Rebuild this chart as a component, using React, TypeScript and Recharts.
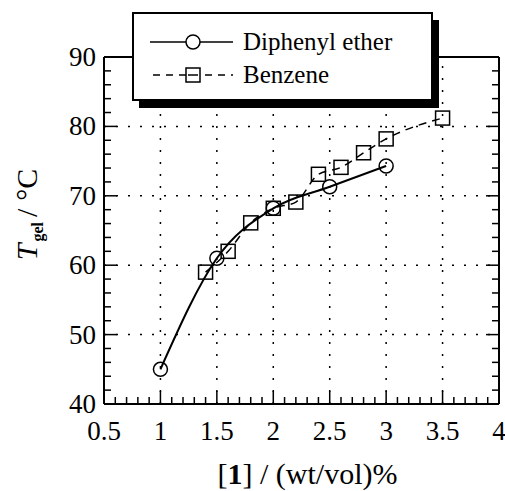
import {
  LineChart,
  Line,
  XAxis,
  YAxis,
  ReferenceLine,
  Legend,
} from "recharts";

// Diphenyl ether
const diphenylConc = [1, 1.5, 2, 2.5, 3];
const diphenylTgel = [45, 61, 68.2, 71.3, 74.3];

// Benzene
const benzeneConc = [1.4, 1.6, 1.8, 2, 2.2, 2.4, 2.6, 2.8, 3, 3.5];
const benzeneTgel = [59, 62, 66.1, 68.2, 69.1, 73.1, 74.1, 76.2, 78.2, 81.2];

const xMajorTicks = [0.5, 1, 1.5, 2, 2.5, 3, 3.5, 4];
const yMajorTicks = [40, 50, 60, 70, 80, 90];
const xGrid = [1, 1.5, 2, 2.5, 3, 3.5];
const yGrid = [50, 60, 70, 80];

// minor ticks every 0.1 on x, every 2 on y
const xAllTicks = Array.from({ length: 36 }, (_, i) => Math.round((0.5 + i * 0.1) * 10) / 10);
const yAllTicks = Array.from({ length: 26 }, (_, i) => 40 + i * 2);

const FONT = "'Liberation Serif', 'Times New Roman', 'DejaVu Serif', serif";
const MAJOR = 13;
const MINOR = 7;
const tickStroke = { stroke: "#000", strokeWidth: 1.5, fill: "none" };
const txt = { fontFamily: FONT, fill: "#000" };

const diphenylData = diphenylConc.map((x, i) => ({ x, y: diphenylTgel[i] }));
const benzeneData = benzeneConc.map((x, i) => ({ x, y: benzeneTgel[i] }));

const isMajorX = (v: number) => xMajorTicks.some((m) => Math.abs(m - v) < 1e-6);
const isMajorY = (v: number) => yMajorTicks.includes(v);

function BottomTick(props: any) {
  const { x, y, payload } = props;
  const major = isMajorX(payload.value);
  return (
    <g>
      <path d={`M${x},${y}V${y - (major ? MAJOR : MINOR)}`} style={tickStroke} />
      {major && (
        <text x={x} y={y + 36} textAnchor="middle" fontSize={27} style={txt}>
          {String(payload.value)}
        </text>
      )}
    </g>
  );
}

function TopTick({ x, y, payload }: any) {
  const major = isMajorX(payload.value);
  return <path d={`M${x},${y}V${y + (major ? MAJOR : MINOR)}`} style={tickStroke} />;
}

function LeftTick({ x, y, payload }: any) {
  const major = isMajorY(payload.value);
  return (
    <g>
      <path d={`M${x},${y}H${x + (major ? MAJOR : MINOR)}`} style={tickStroke} />
      {major && (
        <text x={x - 8} y={y + 9} textAnchor="end" fontSize={27} style={txt}>
          {payload.value}
        </text>
      )}
    </g>
  );
}

function RightTick({ x, y, payload }: any) {
  const major = isMajorY(payload.value);
  return <path d={`M${x},${y}H${x - (major ? MAJOR : MINOR)}`} style={tickStroke} />;
}

const Circle = (p: any) => (
  <circle key={`c${p.index}`} cx={p.cx} cy={p.cy} r={7} fill="none" stroke="#000" strokeWidth={1.5} />
);
const Square = (p: any) => (
  <rect key={`s${p.index}`} x={p.cx - 7} y={p.cy - 7} width={14} height={14} fill="none" stroke="#000" strokeWidth={1.5} />
);

function LegendBox() {
  return (
    <svg width={310} height={100} style={{ display: "block" }}>
      <rect x={7} y={8} width={300} height={88} fill="#000" />
      <rect x={1} y={1} width={299} height={87} fill="#fff" stroke="#000" strokeWidth={2} />
      <line x1={18} x2={101} y1={30} y2={30} stroke="#000" strokeWidth={1.5} />
      <circle cx={61} cy={30} r={7} fill="#fff" stroke="#000" strokeWidth={1.5} />
      <text x={111} y={38} fontSize={25} style={txt}>Diphenyl ether</text>
      <line x1={21} x2={101} y1={63} y2={63} stroke="#000" strokeWidth={1.5} strokeDasharray="7 6" />
      <rect x={54} y={56} width={14} height={14} fill="#fff" stroke="#000" strokeWidth={1.5} />
      <line x1={56} x2={66} y1={63} y2={63} stroke="#000" strokeWidth={1.5} />
      <text x={111} y={71} fontSize={25} style={txt}>Benzene</text>
    </svg>
  );
}

export default function App() {
  return (
    <div style={{ width: 505, height: 491, background: "#fff", fontFamily: FONT }}>
      <style>{`body{margin:0}`}</style>
      <LineChart width={505} height={491} margin={{ top: 56, right: 5, bottom: 0, left: 0 }}>
        <XAxis
          xAxisId="x"
          dataKey="x"
          type="number"
          domain={[0.5, 4]}
          allowDataOverflow
          ticks={xAllTicks}
          interval={0}
          height={87}
          tickSize={0}
          tickMargin={0}
          tickLine={false}
          axisLine={{ stroke: "#000", strokeWidth: 2 }}
          tick={<BottomTick />}
          label={{
            content: (p: any) => {
              const vb = p.viewBox;
              return (
                <text x={vb.x + vb.width / 2 + 6} y={vb.y + 80} textAnchor="middle" fontSize={30} style={txt}>
                  [<tspan fontWeight="bold">1</tspan>] / (wt/vol)%
                </text>
              );
            },
          }}
        />
        <XAxis
          xAxisId="top"
          orientation="top"
          type="number"
          domain={[0.5, 4]}
          allowDataOverflow
          ticks={xAllTicks}
          interval={0}
          height={1}
          tickSize={0}
          tickMargin={0}
          tickLine={false}
          axisLine={{ stroke: "#000", strokeWidth: 2 }}
          tick={<TopTick />}
        />
        <YAxis
          yAxisId="y"
          type="number"
          domain={[40, 90]}
          allowDataOverflow
          ticks={yAllTicks}
          interval={0}
          width={104}
          tickSize={0}
          tickMargin={0}
          tickLine={false}
          axisLine={{ stroke: "#000", strokeWidth: 2 }}
          tick={<LeftTick />}
          label={{
            content: (p: any) => {
              const vb = p.viewBox;
              const cx = vb.x + 37;
              const cy = vb.y + vb.height / 2 - 16;
              return (
                <text x={cx} y={cy} transform={`rotate(-90 ${cx} ${cy})`} textAnchor="middle" fontSize={30} style={txt}>
                  <tspan fontStyle="italic">T</tspan>
                  <tspan fontSize={16} fontWeight="bold" dx={2} dy={6}>gel</tspan>
                  <tspan dx={5} dy={-6}>/</tspan>
                  <tspan dx={8}>°C</tspan>
                </text>
              );
            },
          }}
        />
        <YAxis
          yAxisId="yr"
          orientation="right"
          type="number"
          domain={[40, 90]}
          allowDataOverflow
          ticks={yAllTicks}
          interval={0}
          width={1}
          tickSize={0}
          tickMargin={0}
          tickLine={false}
          axisLine={{ stroke: "#000", strokeWidth: 2 }}
          tick={<RightTick />}
        />
        {xGrid.map((v) => (
          <ReferenceLine key={`gx${v}`} xAxisId="x" yAxisId="y" x={v} stroke="#000" strokeWidth={1.5} strokeDasharray="2 10" />
        ))}
        {yGrid.map((v) => (
          <ReferenceLine key={`gy${v}`} xAxisId="x" yAxisId="y" y={v} stroke="#000" strokeWidth={1.5} strokeDasharray="2 10" />
        ))}
        <Line
          xAxisId="x"
          yAxisId="y"
          data={benzeneData}
          dataKey="y"
          name="Benzene"
          type="monotone"
          stroke="#000"
          strokeWidth={1.5}
          strokeDasharray="8 6"
          dot={Square}
          activeDot={false}
          isAnimationActive={false}
        />
        <Line
          xAxisId="x"
          yAxisId="y"
          data={diphenylData}
          dataKey="y"
          name="Diphenyl ether"
          type="monotone"
          stroke="#000"
          strokeWidth={2}
          dot={Circle}
          activeDot={false}
          isAnimationActive={false}
        />
        <Legend
          layout="vertical"
          align="center"
          verticalAlign="middle"
          wrapperStyle={{ left: 132, top: 12, width: 310, height: 100 }}
          content={() => <LegendBox />}
        />
      </LineChart>
    </div>
  );
}
